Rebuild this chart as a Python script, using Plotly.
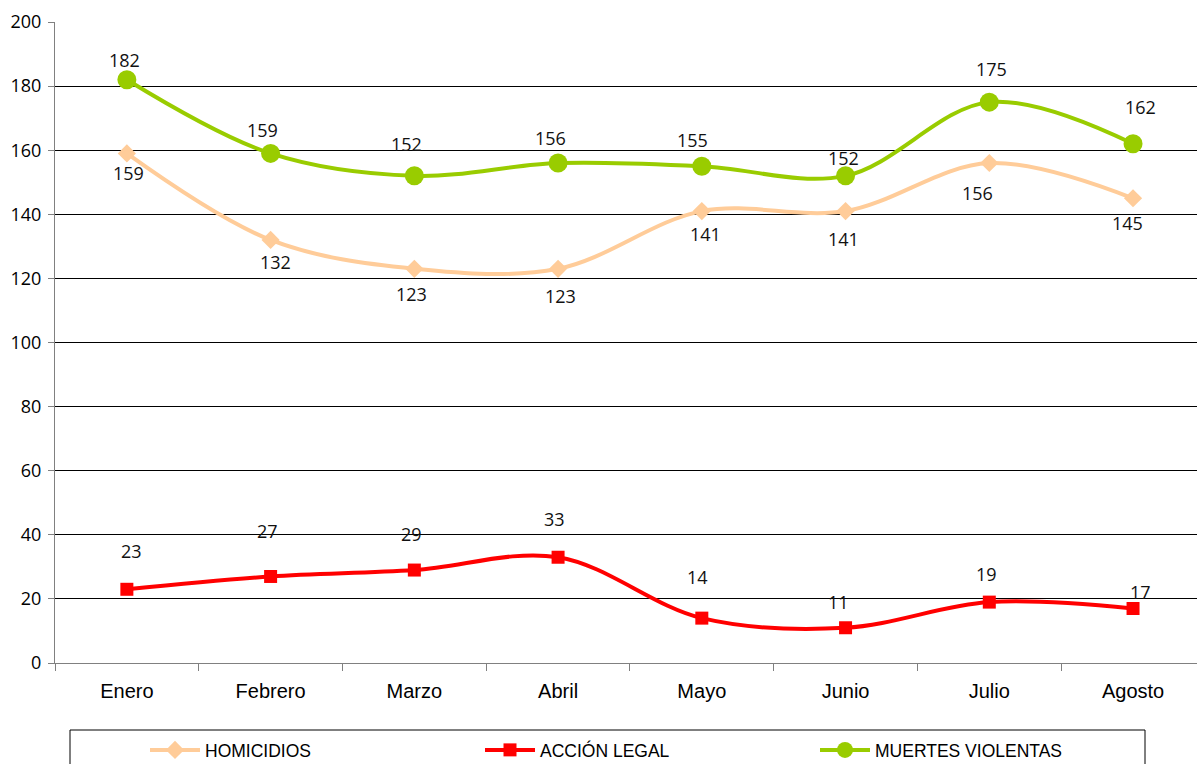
import plotly.graph_objects as go

# Monthly counts
months = ["Enero", "Febrero", "Marzo", "Abril", "Mayo", "Junio", "Julio", "Agosto"]
homicidios = [159, 132, 123, 123, 141, 141, 156, 145]
accion_legal = [23, 27, 29, 33, 14, 11, 19, 17]
muertes_violentas = [182, 159, 152, 156, 155, 152, 175, 162]

# Label offsets (px) relative to each point: (dx, dy), dy positive = up
off_homicidios = [(2, -20), (5, -22), (-3, -25), (2, -27), (4, -23), (-2, -28), (-12, -30), (-6, -25)]
off_accion = [(5, 38), (-3, 45), (-3, 36), (-4, 38), (-4, 41), (-7, 26), (-3, 28), (7, 17)]
off_muertes = [(-2, 20), (-8, 23), (-8, 32), (-8, 25), (-9, 26), (-2, 18), (2, 33), (7, 37)]

W, H = 1197, 764
ML, MR, MT, MB = 55, 0, 22, 101
PW, PH = W - ML - MR, H - MT - MB


def px_x(px):
    return (px - ML) / PW


def px_y(py):
    return (H - MB - py) / PH


series = [
    ("HOMICIDIOS", homicidios, "#FFCC99", "diamond", 14, off_homicidios),
    ("ACCIÓN LEGAL", accion_legal, "#FF0000", "square", 13, off_accion),
    ("MUERTES VIOLENTAS", muertes_violentas, "#99CC00", "circle", 19, off_muertes),
]

fig = go.Figure()
annotations = []
for name, vals, color, sym, msize, offs in series:
    fig.add_trace(go.Scatter(
        x=months, y=vals, name=name, mode="lines+markers",
        line=dict(color=color, width=4, shape="spline", smoothing=1),
        marker=dict(symbol=sym, size=msize, color=color),
    ))
    for m, v, (dx, dy) in zip(months, vals, offs):
        annotations.append(dict(
            x=m, y=v, text=str(v), showarrow=False,
            xshift=dx, yshift=dy,
            font=dict(family="Open Sans", size=18, color="#111111"),
        ))

# Legend frame
shapes = [dict(
    type="rect", xref="paper", yref="paper",
    x0=px_x(70), x1=px_x(1145), y0=px_y(730), y1=px_y(800),
    line=dict(color="#000000", width=1), fillcolor="rgba(0,0,0,0)",
)]

fig.update_layout(
    width=W, height=H,
    margin=dict(l=ML, r=MR, t=MT, b=MB, autoexpand=False),
    paper_bgcolor="white", plot_bgcolor="white",
    showlegend=True,
    legend=dict(
        orientation="h", xref="container", x=145 / W, xanchor="left",
        yref="container", y=1 - 732 / H, yanchor="top",
        entrywidth=270, entrywidthmode="pixels", itemwidth=50,
        font=dict(family="Liberation Sans, Arial", size=17.5, color="#000000"),
        bgcolor="rgba(0,0,0,0)",
    ),
    annotations=annotations,
    shapes=shapes,
    xaxis=dict(
        type="category", categoryorder="array", categoryarray=months,
        range=[-0.5, 7.445], tickson="boundaries",
        ticks="outside", ticklen=7, tickcolor="#808080", tickwidth=1,
        showline=True, linecolor="#808080", linewidth=1,
        showgrid=False, zeroline=False,
        tickfont=dict(family="Liberation Sans, Arial", size=20, color="#000000"),
        ticklabelstandoff=10,
    ),
    yaxis=dict(
        range=[0, 200], tickvals=[0, 20, 40, 60, 80, 100, 120, 140, 160, 180, 200],
        ticks="outside", ticklen=6, tickcolor="#808080", tickwidth=1,
        showline=True, linecolor="#808080", linewidth=1,
        showgrid=True, gridcolor="#000000", gridwidth=1, zeroline=False,
        tickfont=dict(family="Open Sans", size=18, color="#000000"),
        ticklabelstandoff=3,
    ),
)

fig.write_html("out.html")
